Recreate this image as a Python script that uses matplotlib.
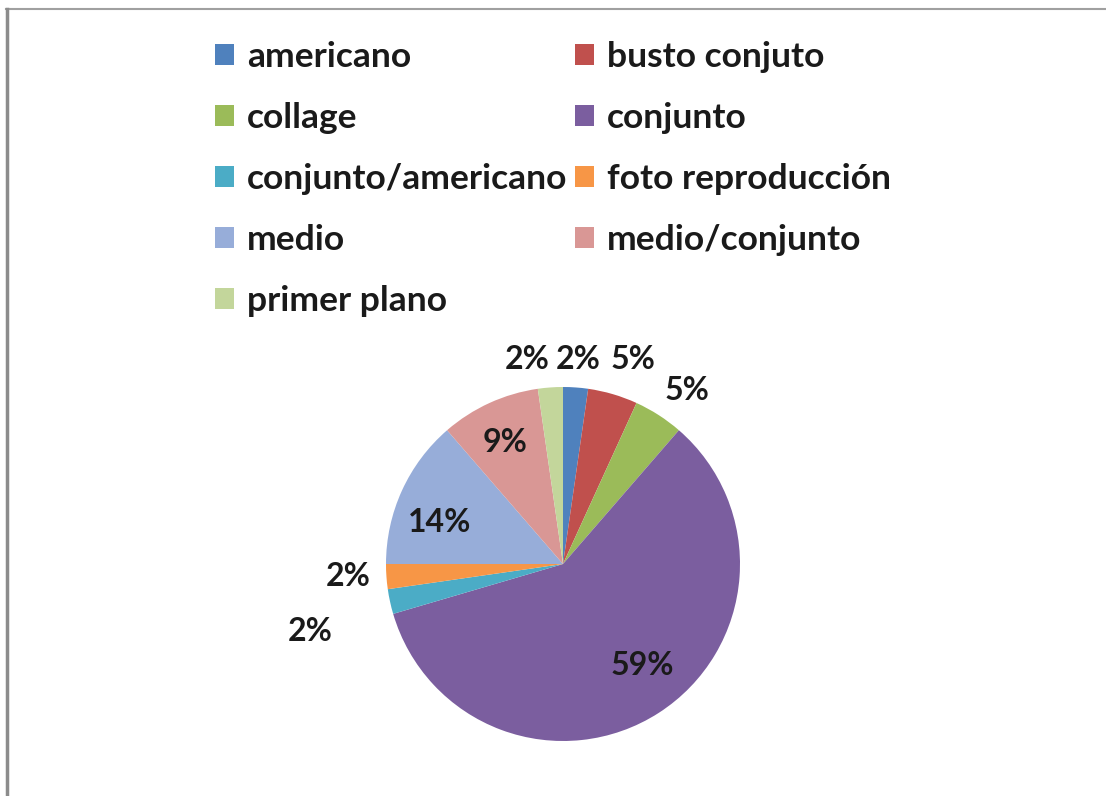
import matplotlib.pyplot as plt
from matplotlib.lines import Line2D
from matplotlib.patches import Patch

# data (counts out of 44 give the shown percentages)
categories = ["americano", "busto conjuto", "collage", "conjunto",
              "conjunto/americano", "foto reproducción", "medio",
              "medio/conjunto", "primer plano"]
counts = [1, 2, 2, 26, 1, 1, 6, 4, 1]

colors = ["#4F81BD", "#C0504D", "#9BBB59", "#7B5E9F", "#4BACC6",
          "#F79646", "#97ADD9", "#D99795", "#C3D69B"]

# label positions (in pie radii) as Excel placed them
label_pos = [(0.085, 1.153), (0.395, 1.153), (0.70, 0.983), (0.446, -0.571),
             (-1.429, -0.384), (-1.215, -0.073), (-0.695, 0.237),
             (-0.328, 0.689), (-0.203, 1.153)]

plt.rcParams['font.family'] = ['Lato', 'DejaVu Sans']

fig = plt.figure(figsize=(11.06, 7.96), dpi=100)

# pie: centre (563, 564) px, radius 177 px
r = 177
ax = fig.add_axes([(563 - r) / 1106, (796 - 564 - r) / 796, 2 * r / 1106, 2 * r / 796])
wedges, texts, autotexts = ax.pie(counts, colors=colors, startangle=90,
                                  counterclock=False, autopct='%.0f%%',
                                  wedgeprops=dict(linewidth=0))
ax.set_xlim(-1, 1)
ax.set_ylim(-1, 1)
ax.set_aspect('equal')
ax.axis('off')
for t, (px, py) in zip(autotexts, label_pos):
    t.set_position((px, py))
    t.set_fontsize(23)
    t.set_fontweight('bold')
    t.set_color('#1a1a1a')
    t.set_ha('center')
    t.set_va('center')
    t.set_clip_on(False)

# legend, row-major order in 2 columns
handles = [Patch(facecolor=c, edgecolor='none') for c in colors]
order = [0, 2, 4, 6, 8, 1, 3, 5, 7]
fig.legend([handles[i] for i in order], [categories[i] for i in order],
           ncol=2, loc='upper left', bbox_to_anchor=(215 / 1106, 1 - 41 / 796),
           frameon=False, prop=dict(size=25.5, weight='bold'),
           handlelength=0.55, handleheight=0.55, handletextpad=0.36,
           labelspacing=0.82, columnspacing=0.2, borderpad=0,
           borderaxespad=0, labelcolor='#1a1a1a')

# frame lines top and left
fig.add_artist(Line2D([6 / 1106, 1], [1 - 9 / 796, 1 - 9 / 796],
                      color='#a0a0a0', lw=1.5, transform=fig.transFigure))
fig.add_artist(Line2D([7 / 1106, 7 / 1106], [0, 1 - 9 / 796],
                      color='#8c8c8c', lw=2.5, transform=fig.transFigure))

fig.savefig('out.png', dpi=100)
